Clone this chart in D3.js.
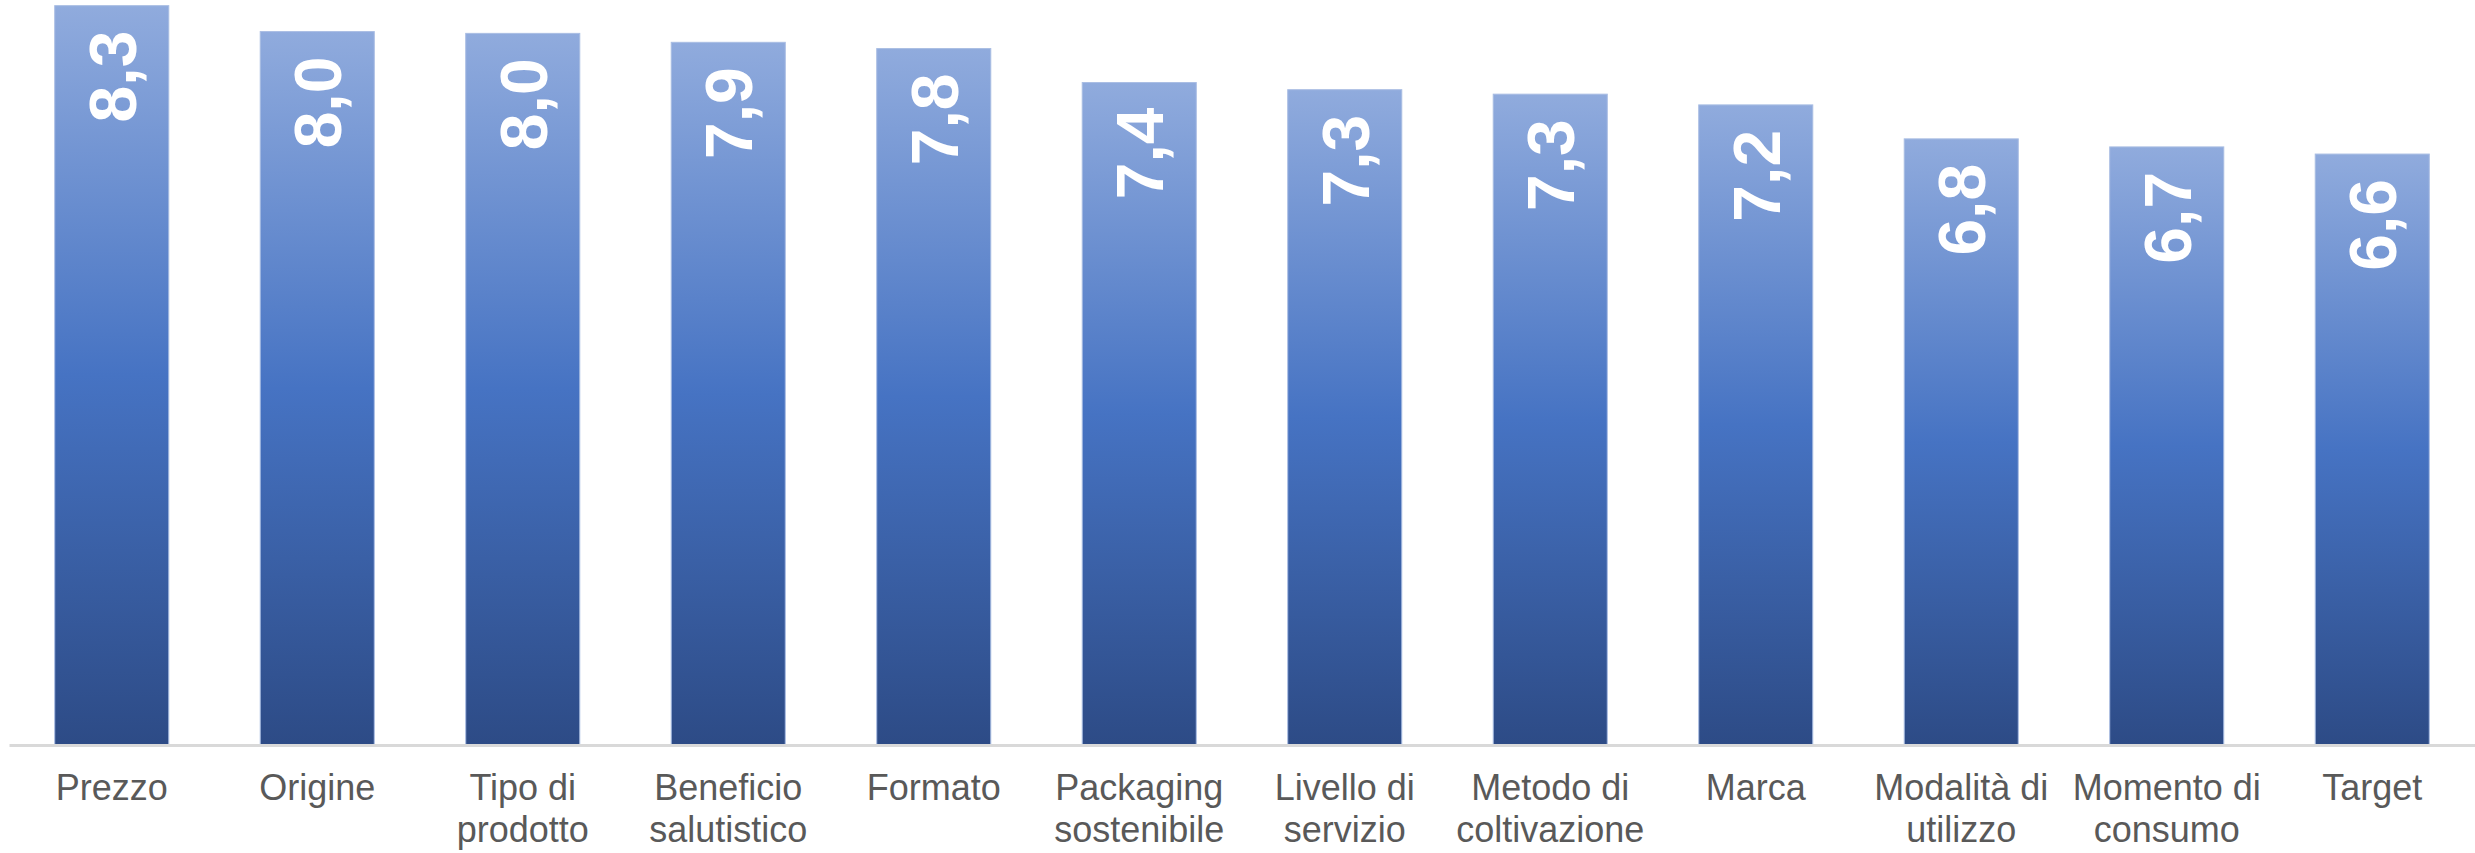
<!DOCTYPE html>
<html>
<head>
<meta charset="utf-8">
<script src="https://cdn.jsdelivr.net/npm/d3@7"></script>
<style>
  html, body { margin: 0; padding: 0; background: #ffffff; }
  svg { display: block; }
</style>
</head>
<body>
<svg id="chart" width="2475" height="853"></svg>
<script>
// ---- data ----
const categories = [
  "Prezzo", "Origine", "Tipo di\nprodotto", "Beneficio\nsalutistico", "Formato",
  "Packaging\nsostenibile", "Livello di\nservizio", "Metodo di\ncoltivazione", "Marca",
  "Modalità di\nutilizzo", "Momento di\nconsumo", "Target"
];
const values = [8.27, 7.98, 7.96, 7.86, 7.79, 7.41, 7.33, 7.28, 7.16, 6.78, 6.69, 6.61];

// ---- layout ----
const svg = d3.select("#chart");
const baseY = 745;

const x = d3.scaleBand()
  .domain(categories)
  .range([9, 2475])
  .paddingInner(0.445)
  .paddingOuter(0.2225);

const y = d3.scaleLinear()
  .domain([0, 8])
  .range([baseY, baseY - 8 * 89.4]);

// gradient
const defs = svg.append("defs");
const grad = defs.append("linearGradient")
  .attr("id", "barGrad")
  .attr("x1", 0).attr("y1", 0).attr("x2", 0).attr("y2", 1);
grad.append("stop").attr("offset", "0%").attr("stop-color", "#90abdd");
grad.append("stop").attr("offset", "50%").attr("stop-color", "#4673c3");
grad.append("stop").attr("offset", "100%").attr("stop-color", "#2d4b86");

// bars
svg.append("g").selectAll("rect")
  .data(values)
  .join("rect")
  .attr("x", (d, i) => x(categories[i]))
  .attr("y", d => y(d))
  .attr("width", x.bandwidth())
  .attr("height", d => baseY - y(d))
  .attr("fill", "url(#barGrad)")
  .attr("stroke", "#a9bde3")
  .attr("stroke-width", 1);

// axis
const axis = svg.append("g")
  .attr("transform", `translate(0,${baseY})`)
  .call(d3.axisBottom(x).tickSize(0).tickSizeOuter(0).tickPadding(0));
axis.select(".domain")
  .attr("stroke", "#d9d9d9")
  .attr("stroke-width", 3);
axis.selectAll(".tick text").remove();
axis.selectAll(".tick").each(function(d) {
  const lines = d.split("\n");
  const t = d3.select(this).append("text")
    .attr("fill", "#595959")
    .attr("font-family", "Liberation Sans, Arial, sans-serif")
    .attr("font-size", 36)
    .attr("text-anchor", "middle");
  lines.forEach((ln, j) => {
    t.append("tspan").attr("x", 0).attr("y", 55 + j * 42).text(ln);
  });
});

// value labels (rotated)
const fmt = v => d3.format(".1f")(v).replace(".", ",");
svg.append("g").selectAll("text")
  .data(values)
  .join("text")
  .attr("transform", (d, i) => `translate(${x(categories[i]) + x.bandwidth() / 2 + 24},${y(d) + 25}) rotate(-90)`)
  .attr("text-anchor", "end")
  .attr("fill", "#ffffff")
  .attr("font-family", "Liberation Sans, Arial, sans-serif")
  .attr("font-weight", "bold")
  .attr("font-size", 66)
  .text(d => fmt(d));
</script>
</body>
</html>
